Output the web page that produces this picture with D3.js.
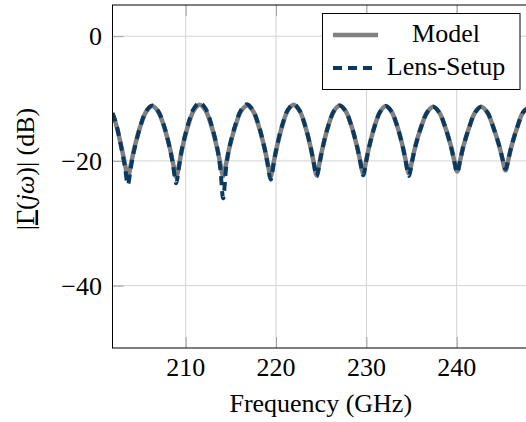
<!DOCTYPE html>
<html>
<head>
<meta charset="utf-8">
<script src="https://cdn.jsdelivr.net/npm/d3@7"></script>
<style>
    body { margin: 0; background: white; }
    text { font-family: "Liberation Serif", "Times New Roman", serif; fill: black; }
</style>
</head>
<body>
<div class="div-line-plot"></div>
<script>

// DATA

var frequency = [
    201.9, 202.3, 202.95, 203.28, 203.6,
    203.94, 204.28, 204.95, 205.63, 206.3,
    206.96, 207.63, 208.29, 208.62, 208.95,
    209.28, 209.6, 210.25, 210.9, 211.55,
    212.2, 212.85, 213.5, 213.83, 214.15,
    214.48, 214.81, 215.48, 216.14, 216.8,
    217.45, 218.1, 218.75, 219.08, 219.4,
    219.72, 220.04, 220.68, 221.31, 221.95,
    222.59, 223.23, 223.86, 224.18, 224.5,
    224.82, 225.14, 225.78, 226.41, 227.05,
    227.7, 228.35, 229.0, 229.33, 229.65,
    229.96, 230.28, 230.9, 231.53, 232.15,
    232.79, 233.43, 234.06, 234.38, 234.7,
    235.04, 235.38, 236.05, 236.73, 237.4,
    238.06, 238.73, 239.39, 239.72, 240.05,
    240.38, 240.71, 241.38, 242.04, 242.7,
    243.38, 244.05, 244.73, 245.06, 245.4,
    245.73, 246.05, 246.7, 247.35, 248.0
];

var model = [
    -12.5, -14.2, -18.2, -20.5, -22.6,
    -20.5, -18.2, -14.6, -12.1, -11.2,
    -12.1, -14.6, -18.2, -20.5, -22.6,
    -20.5, -18.1, -14.4, -11.9, -11.0,
    -11.9, -14.4, -18.1, -20.4, -22.4,
    -20.4, -18.1, -14.5, -12.0, -11.1,
    -12.0, -14.5, -18.1, -20.4, -22.5,
    -20.4, -18.1, -14.4, -11.9, -11.0,
    -11.9, -14.4, -18.0, -20.3, -22.3,
    -20.3, -18.0, -14.4, -12.0, -11.1,
    -12.0, -14.4, -17.9, -20.1, -22.0,
    -20.1, -17.9, -14.5, -12.1, -11.2,
    -12.1, -14.5, -17.9, -20.1, -22.0,
    -20.1, -17.9, -14.6, -12.2, -11.3,
    -12.2, -14.6, -17.8, -19.9, -21.7,
    -19.9, -17.8, -14.6, -12.2, -11.3,
    -12.2, -14.6, -17.7, -19.7, -21.5,
    -19.7, -17.7, -14.6, -12.2, -11.4
];

var lensSetup = [
    -12.3, -14.0, -18.4, -21.0, -23.8,
    -21.0, -18.4, -14.6, -12.0, -11.1,
    -12.0, -14.5, -18.3, -20.9, -23.6,
    -20.8, -18.0, -14.2, -11.6, -10.7,
    -11.6, -14.2, -18.0, -21.2, -26.0,
    -21.0, -18.0, -14.3, -11.8, -10.9,
    -11.9, -14.4, -18.1, -20.6, -23.0,
    -20.6, -18.1, -14.3, -11.8, -10.9,
    -11.9, -14.4, -18.0, -20.4, -22.5,
    -20.3, -18.0, -14.4, -12.0, -11.1,
    -12.0, -14.4, -17.9, -20.2, -22.3,
    -20.2, -17.9, -14.5, -12.1, -11.2,
    -12.1, -14.5, -18.0, -20.3, -22.4,
    -20.2, -17.9, -14.6, -12.2, -11.3,
    -12.2, -14.6, -17.9, -20.0, -21.9,
    -19.9, -17.8, -14.6, -12.2, -11.3,
    -12.2, -14.6, -17.7, -19.6, -21.3,
    -19.6, -17.7, -14.6, -12.2, -11.4
];

var xTicks = [210, 220, 230, 240];
var yTicks = [0, -20, -40];
var seriesNames = ["Model", "Lens-Setup"];

// VISUALIZATION

var width = 526;
var height = 422;
var margin = { left: 112.5, top: 5, right: -3, bottom: 74 };

var modelColor = "#808080";
var lensColor = "#0b3a60";

var svg = d3.select('.div-line-plot').append('svg')
    .attr('width', width)
    .attr('height', height);

var x_scale = d3.scaleLinear()
    .domain([201.9, 248])
    .range([margin.left, width - margin.right]);

var y_scale = d3.scaleLinear()
    .domain([-50, 5])
    .range([height - margin.bottom, margin.top]);

var x0 = x_scale.range()[0], x1 = x_scale.range()[1];
var y0 = y_scale.range()[0], y1 = y_scale.range()[1];

svg.append("clipPath")
    .attr("id", "plot-area")
    .append("rect")
    .attr("x", x0)
    .attr("y", y1)
    .attr("width", x1 - x0)
    .attr("height", y0 - y1);

// grid
svg.append("g")
    .selectAll("line")
    .data(xTicks)
    .join("line")
    .attr("x1", d => x_scale(d)).attr("x2", d => x_scale(d))
    .attr("y1", y0).attr("y2", y1)
    .attr("stroke", "#d3d3d3")
    .attr("stroke-width", 1);

svg.append("g")
    .selectAll("line")
    .data(yTicks)
    .join("line")
    .attr("x1", x0).attr("x2", x1)
    .attr("y1", d => y_scale(d)).attr("y2", d => y_scale(d))
    .attr("stroke", "#d3d3d3")
    .attr("stroke-width", 1);

// inner tick marks
var x_axis = d3.axisBottom(x_scale).tickValues(xTicks).tickSize(-11).tickFormat("");
svg.append("g")
    .attr("class", "x axis")
    .attr("transform", "translate(0," + y0 + ")")
    .call(x_axis);

var x_axis_top = d3.axisTop(x_scale).tickValues(xTicks).tickSize(-11).tickFormat("");
svg.append("g")
    .attr("transform", "translate(0," + y1 + ")")
    .call(x_axis_top);

var y_axis = d3.axisLeft(y_scale).tickValues(yTicks).tickSize(-11).tickFormat("");
svg.append("g")
    .attr("class", "y axis")
    .attr("transform", "translate(" + x0 + ",0)")
    .call(y_axis);

svg.selectAll(".domain").remove();
svg.selectAll(".tick line").attr("stroke", "#a0a0a0").attr("stroke-width", 1);

// tick labels
svg.append("g")
    .selectAll("text")
    .data(xTicks)
    .join("text")
    .attr("x", d => x_scale(d))
    .attr("y", 376)
    .attr("text-anchor", "middle")
    .style("font-size", "26px")
    .text(d => d);

svg.append("g")
    .selectAll("text")
    .data(yTicks)
    .join("text")
    .attr("x", 102)
    .attr("y", d => y_scale(d) + 9)
    .attr("text-anchor", "end")
    .style("font-size", "26px")
    .text(d => d < 0 ? "\u2212" + Math.abs(d) : d);

// lines
var line = d3.line()
    .x((d, i) => x_scale(frequency[i]))
    .y(d => y_scale(d))
    .curve(d3.curveCatmullRom.alpha(0.5));

var plot = svg.append("g").attr("clip-path", "url(#plot-area)");

plot.append("path")
    .attr("d", line(model))
    .attr("fill", "none")
    .attr("stroke", modelColor)
    .attr("stroke-width", 4.5);

plot.append("path")
    .attr("d", line(lensSetup))
    .attr("fill", "none")
    .attr("stroke", lensColor)
    .attr("stroke-width", 4)
    .attr("stroke-dasharray", "9,6");

// frame
svg.append("rect")
    .attr("x", x0)
    .attr("y", y1)
    .attr("width", x1 - x0)
    .attr("height", y0 - y1)
    .attr("fill", "none")
    .attr("stroke", "black")
    .attr("stroke-width", 1);

// axis titles
svg.append("text")
    .attr("x", (x0 + x1) / 2)
    .attr("y", 412)
    .attr("text-anchor", "middle")
    .style("font-size", "26px")
    .text("Frequency (GHz)");

var ylabel = svg.append("text")
    .attr("transform", "translate(33.5,169) rotate(-90)")
    .attr("text-anchor", "middle")
    .style("font-size", "26px");
ylabel.append("tspan").text("|");
ylabel.append("tspan").attr("text-decoration", "underline").text("\u0393");
ylabel.append("tspan").text("(");
ylabel.append("tspan").style("font-style", "italic").text("j\u03c9");
ylabel.append("tspan").text(")| (dB)");

// legend
var legend = svg.append("g").attr("class", "legend");
legend.append("rect")
    .attr("x", 322.5)
    .attr("y", 13.5)
    .attr("width", 197.5)
    .attr("height", 76)
    .attr("fill", "white")
    .attr("stroke", "black")
    .attr("stroke-width", 1);

var legendRows = [
    { name: seriesNames[0], color: modelColor, dash: null, w: 4.5, y: 35, base: 42 },
    { name: seriesNames[1], color: lensColor, dash: "9,6", w: 4, y: 68, base: 75 }
];

legend.selectAll("line")
    .data(legendRows)
    .join("line")
    .attr("x1", 333).attr("x2", 378)
    .attr("y1", d => d.y).attr("y2", d => d.y)
    .attr("stroke", d => d.color)
    .attr("stroke-width", d => d.w)
    .attr("stroke-dasharray", d => d.dash);

legend.selectAll("text")
    .data(legendRows)
    .join("text")
    .attr("x", 446)
    .attr("y", d => d.base)
    .attr("text-anchor", "middle")
    .style("font-size", "26px")
    .text(d => d.name);

</script>
</body>
</html>
